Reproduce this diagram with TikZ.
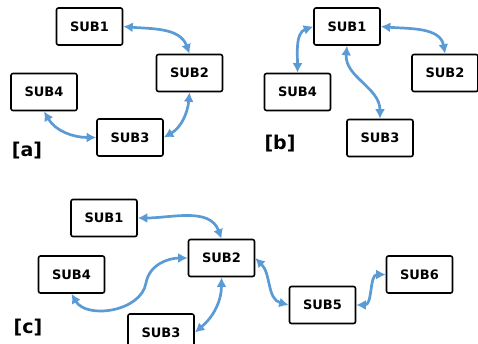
\documentclass[tikz,border=0pt]{standalone}
\usepackage{fontspec}
\setmainfont{DejaVu Sans}
\usetikzlibrary{arrows.meta}
\definecolor{arr}{HTML}{5B9BD5}
\tikzset{
  subbox/.style={draw=black, line width=1.6pt, rounded corners=2pt, minimum width=66pt, minimum height=37pt, inner sep=0pt, font=\fontsize{13}{14}\selectfont\bfseries, fill=white},
  link/.style={draw=arr, line width=2.7pt, {Latex[length=9.5pt,width=10pt]}-{Latex[length=9.5pt,width=10pt]}},
  panel/.style={font=\fontsize{19}{21}\selectfont\bfseries, inner sep=0pt}
}
\begin{document}
\begin{tikzpicture}[x=1pt,y=-1pt]
\useasboundingbox (0,0) rectangle (478,343);
\clip (0,0) rectangle (478,343);
% panel a
\node[subbox] (a1) at (89.5,26.5) {SUB1};
\node[subbox] (a2) at (189.5,73) {SUB2};
\node[subbox] (a4) at (44,92) {SUB4};
\node[subbox] (a3) at (130,137.5) {SUB3};
\node[panel] (la) at (27,151) {[a]};
\draw[link] (a1.east) to[out=-5,in=110] (a2.north);
\draw[link] (a2.south) to[out=-95,in=30] (a3.east);
\draw[link] (a4.south) to[out=-60,in=180] (a3.west);
% panel b
\node[subbox] (b1) at (347,26.5) {SUB1};
\node[subbox] (b2) at (445,73) {SUB2};
\node[subbox] (b4) at (297.5,92) {SUB4};
\node[subbox] (b3) at (380,138) {SUB3};
\node[panel] (lb) at (280,144) {[b]};
\draw[link] (b1.west) to[out=200,in=90] (b4.north);
\draw[link] (b1.east) to[out=-5,in=100] (b2.north);
\draw[link] (b1.south) to[out=-95,in=90] (b3.north);
% panel c
\node[subbox] (c1) at (104,218) {SUB1};
\node[subbox] (c2) at (221.5,258) {SUB2};
\node[subbox] (c4) at (71.5,274.5) {SUB4};
\node[subbox] (c3) at (161,332.5) {SUB3};
\node[subbox] (c5) at (322.5,305) {SUB5};
\node[subbox] (c6) at (419.5,274.5) {SUB6};
\node[panel] (lc) at (28,328) {[c]};
\coordinate (m) at (146,283);
\draw[link] (c1.east) to[out=0,in=110] (c2.north);
\draw[link] (c4.south) to[out=-60,in=-100] (m) to[out=80,in=180] (c2.west);
\draw[link] (c2.south) to[out=-90,in=40] (c3.east);
\draw[link] (c2.east) to[out=-45,in=165] (c5.west);
\draw[link] (c5.east) to[out=0,in=180] (c6.west);
\end{tikzpicture}
\end{document}
